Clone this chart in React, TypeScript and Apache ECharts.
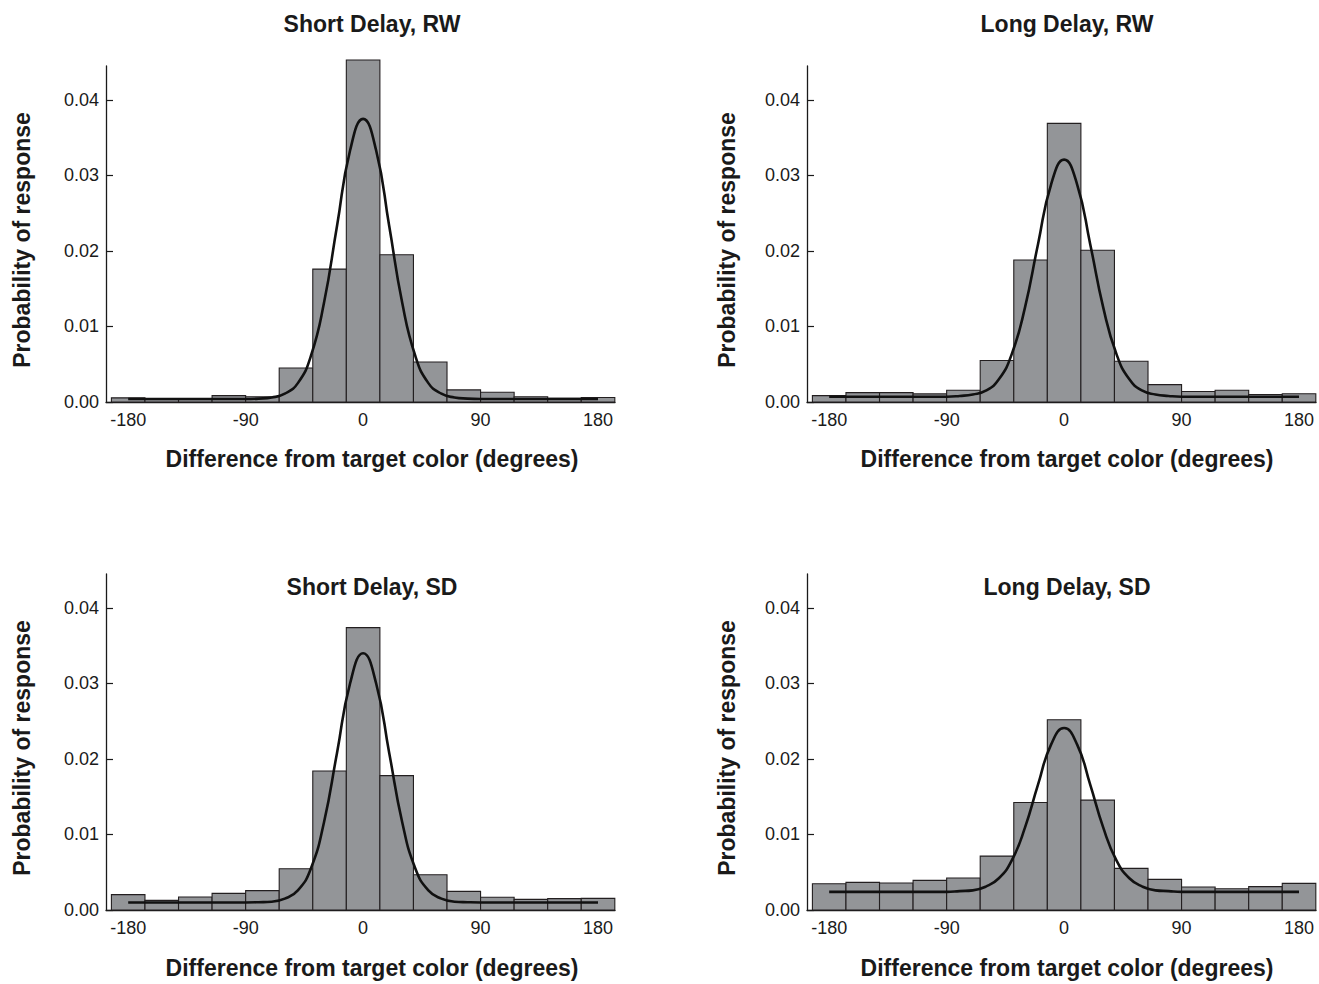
import React, { useEffect, useRef } from "react";
import * as echarts from "echarts";

// Histogram bin centres (degrees) and bin width
const BIN_CENTERS = [-180, -154.29, -128.57, -102.86, -77.14, -51.43, -25.71, 0, 25.71, 51.43, 77.14, 102.86, 128.57, 154.29, 180];
const BIN_WIDTH = 25.714;

// Bar heights (probability of response)
const SHORT_RW_BARS = [0.00055, 0.0004, 0.0004, 0.00084, 0.0007, 0.0045, 0.0176, 0.0453, 0.0195, 0.0053, 0.0016, 0.0013, 0.0007, 0.0005, 0.0006];
const LONG_RW_BARS = [0.00084, 0.00124, 0.00124, 0.00107, 0.00156, 0.0055, 0.0188, 0.0369, 0.0201, 0.0054, 0.0023, 0.0014, 0.00156, 0.001, 0.0011];
const SHORT_SD_BARS = [0.00203, 0.00128, 0.00172, 0.0022, 0.00256, 0.00547, 0.0184, 0.0374, 0.0178, 0.00467, 0.00247, 0.00168, 0.00141, 0.0015, 0.00154];
const LONG_SD_BARS = [0.00348, 0.00366, 0.00357, 0.00393, 0.00423, 0.00714, 0.01424, 0.0252, 0.01455, 0.00551, 0.00406, 0.00304, 0.00282, 0.00309, 0.00353];

// Fitted curve, sampled by eye at these x positions
const CURVE_X = [-180, -150, -120, -90, -80, -70, -60, -50, -40, -30, -20, -10, 0, 10, 20, 30, 40, 50, 60, 70, 80, 90, 120, 150, 180];
const SHORT_RW_CURVE = [0.0004, 0.0004, 0.0004, 0.0004, 0.00045, 0.0006, 0.0011, 0.0025, 0.0061, 0.0131, 0.0233, 0.0333, 0.0375, 0.0333, 0.0233, 0.0131, 0.0061, 0.0025, 0.0011, 0.0006, 0.00045, 0.0004, 0.0004, 0.0004, 0.0004];
const LONG_RW_CURVE = [0.0007, 0.0007, 0.0007, 0.0007, 0.0008, 0.001, 0.0015, 0.003, 0.0064, 0.0125, 0.0209, 0.0288, 0.0321, 0.0288, 0.0209, 0.0125, 0.0064, 0.003, 0.0015, 0.001, 0.0008, 0.0007, 0.0007, 0.0007, 0.0007];
const SHORT_SD_CURVE = [0.001, 0.001, 0.001, 0.001, 0.00103, 0.0011, 0.0015, 0.0026, 0.0055, 0.0116, 0.0208, 0.03, 0.034, 0.03, 0.0208, 0.0116, 0.0055, 0.0026, 0.0015, 0.0011, 0.00103, 0.001, 0.001, 0.001, 0.001];
const LONG_SD_CURVE = [0.0024, 0.0024, 0.0024, 0.0024, 0.0025, 0.0026, 0.0031, 0.0042, 0.0066, 0.0109, 0.0166, 0.0219, 0.0241, 0.0219, 0.0166, 0.0109, 0.0066, 0.0042, 0.0031, 0.0026, 0.0025, 0.0024, 0.0024, 0.0024, 0.0024];

const TITLES = ["Short Delay, RW", "Long Delay, RW", "Short Delay, SD", "Long Delay, SD"];
const X_TICKS = [-180, -90, 0, 90, 180];
const Y_TICKS = [0, 0.01, 0.02, 0.03, 0.04];
const X_NAME = "Difference from target color (degrees)";
const Y_NAME = "Probability of response";

const PANELS = [
  { title: TITLES[0], bars: SHORT_RW_BARS, curve: SHORT_RW_CURVE },
  { title: TITLES[1], bars: LONG_RW_BARS, curve: LONG_RW_CURVE },
  { title: TITLES[2], bars: SHORT_SD_BARS, curve: SHORT_SD_CURVE },
  { title: TITLES[3], bars: LONG_SD_BARS, curve: LONG_SD_CURVE },
];

const FONT = "'Liberation Sans', Arial, Helvetica, sans-serif";
const INK = "#1a1a1a";

export default function App() {
  const ref = useRef<HTMLDivElement>(null);

  useEffect(() => {
    if (!ref.current) return;
    const chart = echarts.init(ref.current, null, { renderer: "svg" });

    const gridLefts = [106, 807];
    const gridTops = [66, 574];
    const gridW = 509;
    const gridH = 336;

    const grids: any[] = [];
    const xAxes: any[] = [];
    const yAxes: any[] = [];
    const series: any[] = [];
    const graphics: any[] = [];

    PANELS.forEach((p, i) => {
      const col = i % 2;
      const row = Math.floor(i / 2);
      const left = gridLefts[col];
      const top = gridTops[row];
      grids.push({ left, top, width: gridW, height: gridH, containLabel: false });
      xAxes.push({
        type: "value",
        gridIndex: i,
        min: -197,
        max: 193,
        axisLine: { show: true, onZero: false, lineStyle: { color: INK, width: 1.3 } },
        axisTick: { show: false },
        splitLine: { show: false },
        axisLabel: {
          customValues: X_TICKS,
          margin: 9,
          fontSize: 18,
          fontFamily: FONT,
          color: INK,
        },
      });
      yAxes.push({
        type: "value",
        gridIndex: i,
        min: 0,
        max: 0.0445,
        interval: 0.01,
        axisLine: { show: true, onZero: false, lineStyle: { color: INK, width: 1.3 } },
        axisTick: { show: true, inside: true, length: 7, customValues: Y_TICKS, lineStyle: { color: INK, width: 1.2 } },
        splitLine: { show: false },
        axisLabel: {
          customValues: Y_TICKS,
          margin: 7,
          fontSize: 18,
          fontFamily: FONT,
          color: INK,
          formatter: (v: number) => v.toFixed(2),
        },
      });
      series.push({
        type: "custom",
        xAxisIndex: i,
        yAxisIndex: i,
        clip: false,
        encode: { x: 0, y: 1 },
        data: BIN_CENTERS.map((c, k) => [c, p.bars[k]]),
        renderItem: (params: any, api: any) => {
          const x = api.value(0);
          const y = api.value(1);
          const p0 = api.coord([x - BIN_WIDTH / 2, y]);
          const p1 = api.coord([x + BIN_WIDTH / 2, 0]);
          return {
            type: "rect",
            shape: { x: p0[0], y: p0[1], width: p1[0] - p0[0], height: p1[1] - p0[1] },
            style: { fill: "#939598", stroke: "#231f20", lineWidth: 1.1 },
          };
        },
        z: 2,
      });
      series.push({
        type: "line",
        xAxisIndex: i,
        yAxisIndex: i,
        data: CURVE_X.map((x, k) => [x, p.curve[k]]),
        smooth: 0.5,
        symbol: "none",
        lineStyle: { color: "#111", width: 2.6 },
        z: 3,
      });

      const cx = col === 0 ? 372 : 1067;
      const titleY = row === 0 ? 24 : 587;
      const xNameY = row === 0 ? 459 : 968;
      const yNameX = col === 0 ? 22 : 727;
      const yNameY = row === 0 ? 240 : 748;
      graphics.push({
        type: "text",
        x: cx,
        y: titleY,
        style: { text: p.title, font: `bold 23px ${FONT}`, fill: INK, textAlign: "center", textVerticalAlign: "middle" },
      });
      graphics.push({
        type: "text",
        x: cx,
        y: xNameY,
        style: { text: X_NAME, font: `bold 23px ${FONT}`, fill: INK, textAlign: "center", textVerticalAlign: "middle" },
      });
      graphics.push({
        type: "text",
        x: yNameX,
        y: yNameY,
        rotation: Math.PI / 2,
        style: { text: Y_NAME, font: `bold 23px ${FONT}`, fill: INK, textAlign: "center", textVerticalAlign: "middle" },
      });
    });

    chart.setOption({
      animation: false,
      backgroundColor: "#ffffff",
      grid: grids,
      xAxis: xAxes,
      yAxis: yAxes,
      series,
      graphic: graphics,
    });

    return () => chart.dispose();
  }, []);

  return (
    <div
      ref={ref}
      style={{ position: "absolute", left: 0, top: 0, width: 1319, height: 984, background: "#fff" }}
    />
  );
}
